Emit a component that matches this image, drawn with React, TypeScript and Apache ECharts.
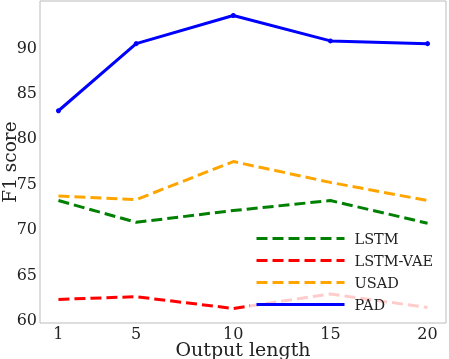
import React, { useEffect, useRef } from "react";
import * as echarts from "echarts";

const xValues = [1, 5, 10, 15, 20];
const yTicks = [60, 65, 70, 75, 80, 85, 90];
const lstm = [73.1, 70.7, 72.0, 73.1, 70.6];
const lstmVae = [62.2, 62.5, 61.2, 62.8, 61.3];
const usad = [73.6, 73.2, 77.4, 75.1, 73.1];
const pad = [83.0, 90.4, 93.5, 90.7, 90.4];

const FONT = "DejaVu Serif";

function pairs(ys: number[]) {
  return xValues.map((x, i) => [x, ys[i]]);
}

export default function App() {
  const ref = useRef<HTMLDivElement>(null);
  useEffect(() => {
    if (!ref.current) return;
    const chart = echarts.init(ref.current, null, { renderer: "svg" });
    const dashed = (name: string, color: string, ys: number[]) => ({
      name,
      type: "line",
      data: pairs(ys),
      symbol: "none",
      lineStyle: { color, width: 3, type: [11, 5] },
      itemStyle: { color },
      z: 2,
    });
    chart.setOption({
      animation: false,
      grid: {
        left: 40,
        right: 3,
        top: 1,
        bottom: 36,
        outerBoundsMode: "none",
        containLabel: false,
        show: true,
        borderColor: "#bbbbbb",
        borderWidth: 1,
        backgroundColor: "transparent",
      },
      xAxis: {
        type: "value",
        min: 0.05,
        max: 20.95,
        name: "Output length",
        nameLocation: "middle",
        nameGap: 17,
        nameMoveOverlap: false,
        nameTextStyle: { fontFamily: FONT, fontSize: 19, lineHeight: 18, color: "#222" },
        axisLine: { show: false },
        axisTick: { show: false },
        splitLine: { show: false },
        axisLabel: {
          customValues: xValues,
          fontFamily: FONT,
          fontSize: 16,
          lineHeight: 14,
          color: "#222",
          margin: 3,
        },
      },
      yAxis: {
        type: "value",
        min: 59.6,
        max: 95.1,
        name: "F1 score",
        nameLocation: "middle",
        nameGap: 22,
        nameMoveOverlap: false,
        nameTextStyle: { fontFamily: FONT, fontSize: 18.5, lineHeight: 18, color: "#222" },
        axisLine: { show: false },
        axisTick: { show: false },
        splitLine: { show: false },
        axisLabel: {
          customValues: yTicks,
          fontFamily: FONT,
          fontSize: 16,
          color: "#222",
          margin: 3,
        },
      },
      legend: {
        orient: "vertical",
        left: 250,
        top: 226,
        padding: 5,
        itemWidth: 88,
        itemHeight: 14,
        itemGap: 7,
        backgroundColor: "rgba(255,255,255,0.8)",
        borderWidth: 0,
        itemStyle: { opacity: 0 },
        lineStyle: { width: 3 },
        textStyle: { fontFamily: FONT, fontSize: 14.5, color: "#222", padding: [0, 0, 0, 5] },
        data: ["LSTM", "LSTM-VAE", "USAD", "PAD"],
      },
      series: [
        dashed("LSTM", "#008000", lstm),
        dashed("LSTM-VAE", "#ff0000", lstmVae),
        dashed("USAD", "#ffa500", usad),
        {
          name: "PAD",
          type: "line",
          data: pairs(pad),
          symbol: "circle",
          symbolSize: 5,
          lineStyle: { color: "#0000ff", width: 3 },
          itemStyle: { color: "#0000ff" },
          z: 2,
        },
      ],
    });
    return () => chart.dispose();
  }, []);
  return (
    <div
      ref={ref}
      style={{ position: "fixed", left: 0, top: 0, width: 449, height: 359 }}
    />
  );
}
